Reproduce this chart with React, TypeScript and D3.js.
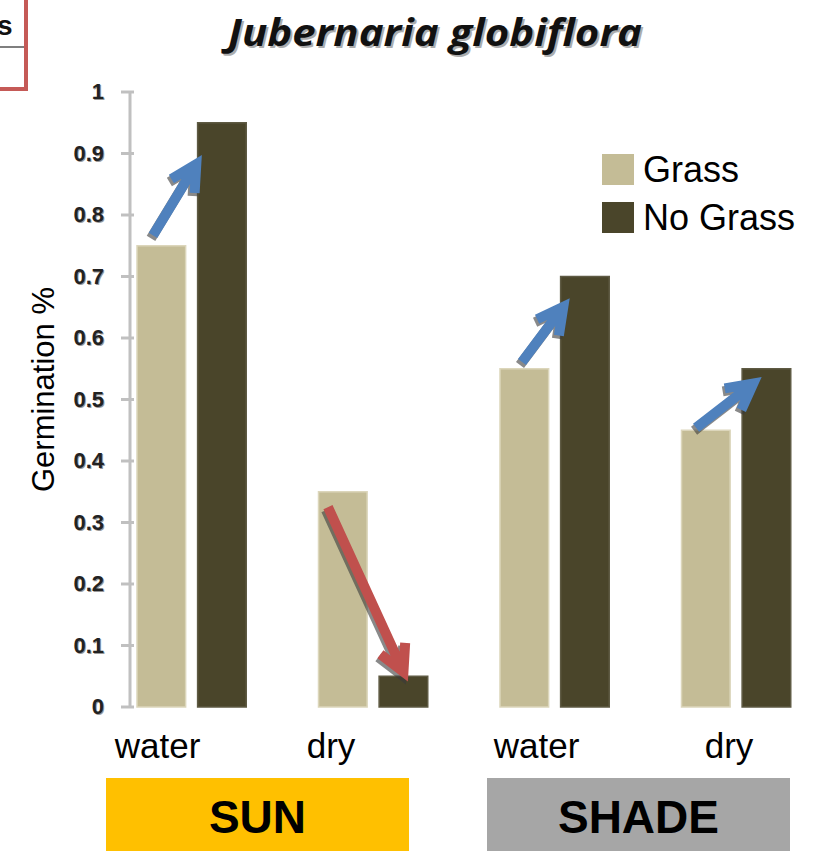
import React from "react";
import * as d3 from "d3";

const categories = ["Sun water", "Sun dry", "Shade water", "Shade dry"];
const xLabels = ["water", "dry", "water", "dry"];
const series = ["Grass", "No Grass"];
const grassValues = [0.75, 0.35, 0.55, 0.45];
const noGrassValues = [0.95, 0.05, 0.7, 0.55];
const yTicks = [0, 0.1, 0.2, 0.3, 0.4, 0.5, 0.6, 0.7, 0.8, 0.9, 1];
const yTickLabels = ["0", "0.1", "0.2", "0.3", "0.4", "0.5", "0.6", "0.7", "0.8", "0.9", "1"];
const conditions = ["SUN", "SHADE"];
// arrows: group index, position within group (fraction), start value, end value
const arrowGroups = [0, 1, 2, 3];
const arrowFrom = [[0.288, 0.767], [0.252, 0.325], [0.321, 0.561], [0.28, 0.454]];
const arrowTo = [[0.558, 0.898], [0.693, 0.041], [0.585, 0.665], [0.643, 0.537]];
const arrowKinds = ["up", "down", "up", "up"];

const W = 819;
const H = 851;
const labelOffsets = [-34, -42, -18, -7];
const colors = { Grass: "#c4bc96", "No Grass": "#4a452a" };

export default function App() {
  const y = d3.scaleLinear().domain([0, 1]).range([707, 92]);
  const x = d3.scaleBand().domain(categories).range([100.75, 826.75]).padding(0);
  const xs = d3.scaleBand().domain(series).range([36.25, 145.5]).paddingInner(0.1975).paddingOuter(0);
  const cond = d3.scaleBand().domain(conditions).range([106, 790]).paddingInner(0.2047);
  const valuesBySeries = [grassValues, noGrassValues];

  const arrowPath = (x0: number, y0: number, x1: number, y1: number) => {
    const th = Math.atan2(y1 - y0, x1 - x0);
    const ux = Math.cos(th), uy = Math.sin(th);
    const tx = x1 - 11 * ux, ty = y1 - 11 * uy;
    const a = (28 * Math.PI) / 180;
    const L = 29;
    const w1x = tx + L * Math.cos(th + Math.PI + a), w1y = ty + L * Math.sin(th + Math.PI + a);
    const w2x = tx + L * Math.cos(th + Math.PI - a), w2y = ty + L * Math.sin(th + Math.PI - a);
    return `M${x0},${y0}L${tx},${ty}M${w1x},${w1y}L${tx},${ty}L${w2x},${w2y}`;
  };

  return (
    <svg width={W} height={H} style={{ position: "absolute", left: 0, top: 0, background: "#fff" }}>
      {/* top-left remnant box */}
      <rect x={-10} y={-10} width={36} height={99} fill="#fff" stroke="#c55a57" strokeWidth={4} />
      <text x={-3} y={35} fontFamily="Liberation Sans, Arial" fontWeight="bold" fontSize={28} fill="#111">s</text>
      <line x1={0} x2={24} y1={47} y2={47} stroke="#555" strokeWidth={1.5} />

      {/* title */}
      <g fontFamily="'Open Sans', sans-serif" fontWeight="bold" fontStyle="italic" fontSize={37} textAnchor="middle">
        <text x={437} y={48} fill="#777" opacity={0.6} textLength={414} lengthAdjust="spacingAndGlyphs">Jubernaria globiflora</text>
        <text x={435} y={46} fill="#111" textLength={414} lengthAdjust="spacingAndGlyphs">Jubernaria globiflora</text>
      </g>

      {/* y axis */}
      <line x1={130} x2={130} y1={y(1)} y2={y(0)} stroke="#c0c0c0" strokeWidth={3} />
      {yTicks.map((t, i) => (
        <g key={t}>
          <line x1={121} x2={134} y1={y(t)} y2={y(t)} stroke="#c0c0c0" strokeWidth={3} />
          <text x={105} y={y(t) + 8} textAnchor="end" fontFamily="Liberation Sans, Arial" fontWeight="bold" fontSize={22} fill="#999">{yTickLabels[i]}</text>
          <text x={104} y={y(t) + 7} textAnchor="end" fontFamily="Liberation Sans, Arial" fontWeight="bold" fontSize={22} fill="#222">{yTickLabels[i]}</text>
        </g>
      ))}

      {/* y label */}
      <text transform={`translate(54,${(y(0) + y(1)) / 2 - 10}) rotate(-90)`} textAnchor="middle" fontFamily="Liberation Sans, Arial" fontSize={31} fill="#000">Germination %</text>

      {/* bars */}
      {categories.map((c, gi) => (
        <g key={c} transform={`translate(${x(c)},0)`}>
          {series.map((s, si) => {
            const v = valuesBySeries[si][gi];
            return (
              <rect key={s} x={xs(s)} y={y(v)} width={xs.bandwidth()} height={y(0) - y(v)}
                fill={colors[s as keyof typeof colors]}
                stroke={si === 0 ? "#dcd6bb" : "#5e5a43"} strokeWidth={1.5} />
            );
          })}
        </g>
      ))}

      {/* arrows */}
      {arrowGroups.map((g, i) => {
        const gx = x(categories[g]) as number;
        const step = x.step();
        const x0 = gx + arrowFrom[i][0] * step, y0 = y(arrowFrom[i][1]);
        const x1 = gx + arrowTo[i][0] * step, y1 = y(arrowTo[i][1]);
        const d = arrowPath(x0, y0, x1, y1);
        const col = arrowKinds[i] === "up" ? "#4f81bd" : "#c0504d";
        return (
          <g key={i}>
            <path d={d} transform="translate(-2,3)" fill="none" stroke="#3a3a3a" strokeOpacity={0.6} strokeWidth={10} strokeLinejoin="miter" />
            <path d={d} fill="none" stroke={col} strokeWidth={10} strokeLinejoin="miter" />
          </g>
        );
      })}

      {/* legend */}
      {series.map((s, i) => (
        <g key={s} transform={`translate(602,${154 + i * 48})`}>
          <rect width={32} height={31} fill={colors[s as keyof typeof colors]} />
          <text x={41} y={28} fontFamily="Liberation Sans, Arial" fontSize={36} fill="#000">{s}</text>
        </g>
      ))}

      {/* x labels */}
      {categories.map((c, i) => (
        <text key={c} x={(x(c) as number) + x.bandwidth() / 2 + labelOffsets[i]} y={758} textAnchor="middle"
          fontFamily="Liberation Sans, Arial" fontSize={35} fill="#000">{xLabels[i]}</text>
      ))}

      {/* condition boxes */}
      {conditions.map((c, i) => (
        <g key={c}>
          <rect x={cond(c)} y={778} width={cond.bandwidth()} height={H - 778} fill={i === 0 ? "#ffc000" : "#a6a6a6"} />
          <text x={(cond(c) as number) + cond.bandwidth() / 2} y={833} textAnchor="middle" fontFamily="Liberation Sans, Arial" fontWeight="bold" fontSize={46} fill="#000">{c}</text>
        </g>
      ))}
    </svg>
  );
}
